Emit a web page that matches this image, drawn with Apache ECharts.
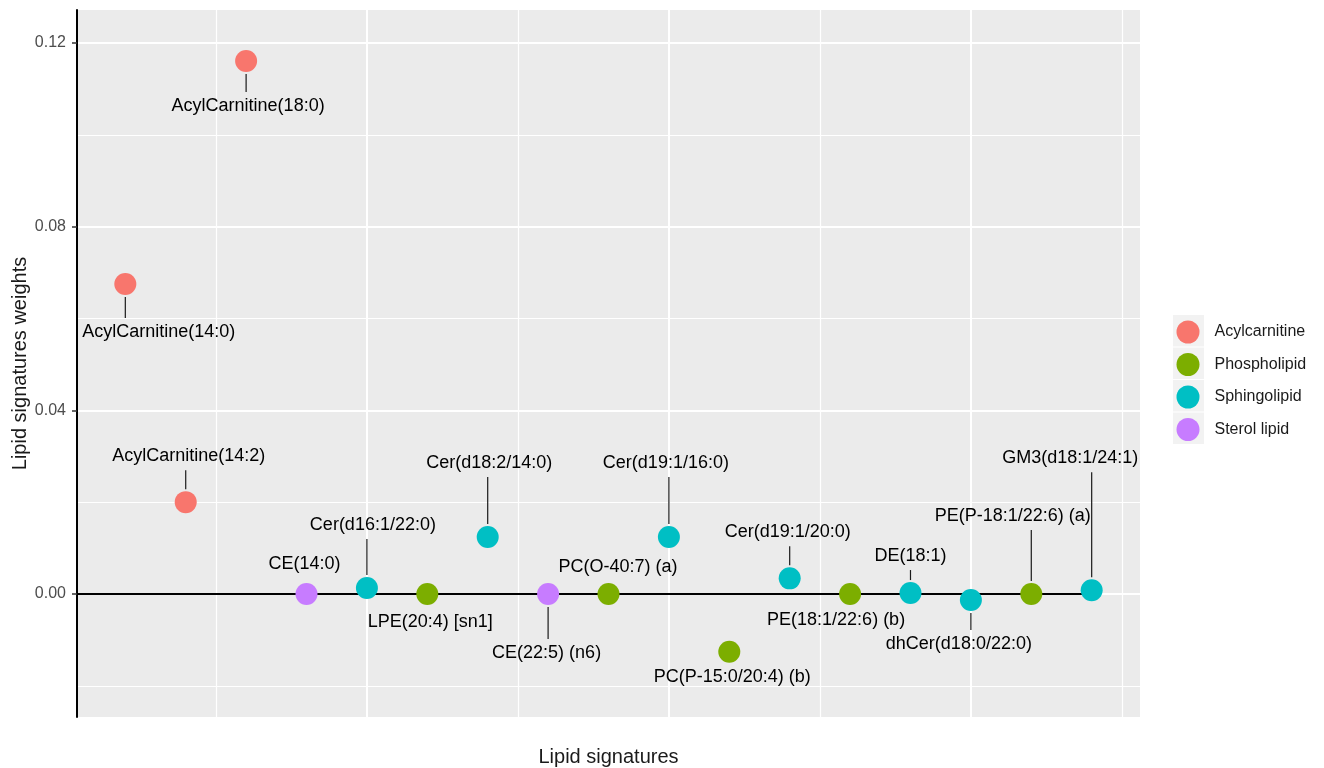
<!DOCTYPE html>
<html>
<head>
<meta charset="utf-8">
<script src="https://cdn.jsdelivr.net/npm/echarts@6/dist/echarts.min.js"></script>
<style>
  html, body { margin: 0; padding: 0; background: #fff; }
  #chart { width: 1324px; height: 768px; }
</style>
</head>
<body>
<div id="chart"></div>
<script>
// Lipid signatures in plotting order along the x axis
const lipidNames = [
  'AcylCarnitine(14:0)', 'AcylCarnitine(14:2)', 'AcylCarnitine(18:0)', 'CE(14:0)',
  'Cer(d16:1/22:0)', 'LPE(20:4) [sn1]', 'Cer(d18:2/14:0)', 'CE(22:5) (n6)',
  'PC(O-40:7) (a)', 'Cer(d19:1/16:0)', 'PC(P-15:0/20:4) (b)', 'Cer(d19:1/20:0)',
  'PE(18:1/22:6) (b)', 'DE(18:1)', 'dhCer(d18:0/22:0)', 'PE(P-18:1/22:6) (a)',
  'GM3(d18:1/24:1)'
];
const lipidClasses = [
  'Acylcarnitine', 'Acylcarnitine', 'Acylcarnitine', 'Sterol lipid',
  'Sphingolipid', 'Phospholipid', 'Sphingolipid', 'Sterol lipid',
  'Phospholipid', 'Sphingolipid', 'Phospholipid', 'Sphingolipid',
  'Phospholipid', 'Sphingolipid', 'Sphingolipid', 'Phospholipid',
  'Sphingolipid'
];
const weights = [
  0.0675, 0.0200, 0.1161, 0.0000,
  0.0013, 0.0000, 0.0124, 0.0000,
  0.0000, 0.0124, -0.0126, 0.0034,
  0.0000, 0.0002, -0.0013, 0.0000,
  0.0008
];
const classOrder = ['Acylcarnitine', 'Phospholipid', 'Sphingolipid', 'Sterol lipid'];
const majorYTicks = [0, 0.04, 0.08, 0.12];
const minorYTicks = [-0.02, 0.02, 0.06, 0.10];
const majorXBreaks = [5, 10, 15];
const minorXBreaks = [2.5, 7.5, 12.5, 17.5];

// Repelled label placement: [dx, dy] of the label centre from its point (px), and whether a leader segment is drawn
const labelNudges = [
  [33.5, 48, true], [3, -46, true], [2, 45, true], [-2, -30, false],
  [6, -63, true], [3, 28, false], [1.5, -74, true], [-1.5, 59, true],
  [9.5, -27, false], [-3, -74, true], [3, 25, false], [-2, -46, true],
  [-14, 26, false], [0, -37, true], [-12, 44, true], [-18.5, -78, true],
  [-21.5, -132, true]
];

const classColors = {
  'Acylcarnitine': '#F8766D',
  'Phospholipid': '#7CAE00',
  'Sphingolipid': '#00BFC4',
  'Sterol lipid': '#C77CFF'
};

const FONT_FAMILY = '"Liberation Sans", Arial, Helvetica, sans-serif';
const LABEL_SIZE = 18;
const LABEL_FONT = LABEL_SIZE + 'px ' + FONT_FAMILY;
const POINT_SIZE = 22;
const X_MIN = 0.2, X_MAX = lipidNames.length + 0.8;
const Y_MIN = -0.0268, Y_MAX = 0.1272;

const measureCtx = document.createElement('canvas').getContext('2d');
measureCtx.font = LABEL_FONT;
function textWidth(s) { return measureCtx.measureText(s).width; }

// Panel grid lines (major thicker, minor thinner), kept beneath every data layer
const gridLineSeries = {
  type: 'line',
  silent: true,
  z: 1,
  data: [],
  markLine: {
    silent: true,
    z: 1,
    symbol: ['none', 'none'],
    animation: false,
    label: { show: false },
    emphasis: { disabled: true },
    data: []
      .concat(majorYTicks.map(v => ({ yAxis: v, lineStyle: { color: '#fff', width: 2, type: 'solid' } })))
      .concat(minorYTicks.map(v => ({ yAxis: v, lineStyle: { color: '#fff', width: 1.2, type: 'solid' } })))
      .concat(majorXBreaks.map(v => ({ xAxis: v, lineStyle: { color: '#fff', width: 2, type: 'solid' } })))
      .concat(minorXBreaks.map(v => ({ xAxis: v, lineStyle: { color: '#fff', width: 1.2, type: 'solid' } })))
  }
};

const pointSeries = classOrder.map(cls => ({
  name: cls,
  type: 'scatter',
  symbol: 'circle',
  symbolSize: POINT_SIZE,
  itemStyle: { color: classColors[cls], opacity: 1 },
  z: 4,
  data: lipidNames
    .map((n, i) => [i + 1, weights[i], n])
    .filter((d, i) => lipidClasses[i] === cls)
}));

const labelSeries = {
  type: 'custom',
  coordinateSystem: 'cartesian2d',
  z: 5,
  silent: true,
  data: lipidNames.map((n, i) => [i + 1, weights[i], i]),
  renderItem(params, api) {
    const i = api.value(2);
    const p = api.coord([api.value(0), api.value(1)]);
    const nudge = labelNudges[i];
    const cx = p[0] + nudge[0];
    const cy = p[1] + nudge[1];
    const children = [{
      type: 'text',
      style: {
        text: lipidNames[i], x: cx, y: cy,
        align: 'center', verticalAlign: 'middle',
        font: LABEL_FONT, fill: '#000'
      }
    }];
    if (nudge[2]) {
      const hw = textWidth(lipidNames[i]) / 2;
      const hh = 14;
      const tx = Math.min(Math.max(p[0], cx - hw), cx + hw);
      const ty = Math.min(Math.max(p[1], cy - hh), cy + hh);
      const ddx = tx - p[0], ddy = ty - p[1];
      const len = Math.sqrt(ddx * ddx + ddy * ddy);
      const r0 = POINT_SIZE / 2 + 2;
      if (len - r0 > 3) {
        children.push({
          type: 'line',
          shape: { x1: p[0] + ddx / len * r0, y1: p[1] + ddy / len * r0, x2: tx, y2: ty },
          style: { stroke: '#1a1a1a', lineWidth: 1.2 }
        });
      }
    }
    return { type: 'group', children };
  }
};

// Baseline at zero running from the panel edge to the last signature
const zeroLine = {
  type: 'line',
  silent: true,
  symbol: 'none',
  z: 3,
  lineStyle: { color: '#000', width: 2 },
  data: [[X_MIN, 0], [lipidNames.length, 0]]
};

const legendLeft = 1171.5, legendTop = 315.5, legendGap = 9.5, legendIcon = 23;
const keyBoxes = classOrder.map((c, k) => ({
  type: 'rect',
  z: 0,
  silent: true,
  shape: { x: 1173, y: 315 + k * (legendIcon + legendGap), width: 31, height: 31.5 },
  style: { fill: '#F2F2F2' }
}));

const chart = echarts.init(document.getElementById('chart'), null, { renderer: 'canvas' });
chart.setOption({
  animation: false,
  backgroundColor: '#ffffff',
  textStyle: { fontFamily: FONT_FAMILY },
  grid: {
    left: 77, right: 184, top: 10, bottom: 51,
    outerBoundsMode: 'none',
    containLabel: false,
    show: true, backgroundColor: '#EBEBEB', borderWidth: 0
  },
  graphic: keyBoxes,
  legend: {
    data: classOrder,
    orient: 'vertical',
    left: legendLeft,
    top: legendTop,
    icon: 'circle',
    itemWidth: 43,
    itemHeight: legendIcon,
    itemGap: legendGap,
    selectedMode: false,
    z: 6,
    textStyle: { fontSize: 16, color: '#1a1a1a', fontFamily: FONT_FAMILY }
  },
  xAxis: {
    type: 'value', min: X_MIN, max: X_MAX,
    name: 'Lipid signatures', nameLocation: 'middle', nameGap: 30,
    nameMoveOverlap: false,
    nameTextStyle: { fontSize: 20, color: '#1a1a1a', fontFamily: FONT_FAMILY },
    axisLine: { show: false }, axisLabel: { show: false },
    axisTick: { show: false },
    splitLine: { show: false }
  },
  yAxis: {
    type: 'value', min: Y_MIN, max: Y_MAX,
    z: 6,
    name: 'Lipid signatures weights', nameLocation: 'middle', nameGap: 47,
    nameMoveOverlap: false,
    nameTextStyle: { fontSize: 20, color: '#1a1a1a', fontFamily: FONT_FAMILY },
    axisLine: { show: true, onZero: false, lineStyle: { color: '#000', width: 2 } },
    axisTick: { show: true, length: 5, customValues: majorYTicks, lineStyle: { color: '#333', width: 1.5 } },
    axisLabel: {
      customValues: majorYTicks, margin: 11, fontSize: 16, color: '#4D4D4D',
      fontFamily: FONT_FAMILY,
      formatter: v => v.toFixed(2)
    },
    splitLine: { show: false }
  },
  series: [gridLineSeries, zeroLine].concat(pointSeries, [labelSeries])
});
</script>
</body>
</html>
